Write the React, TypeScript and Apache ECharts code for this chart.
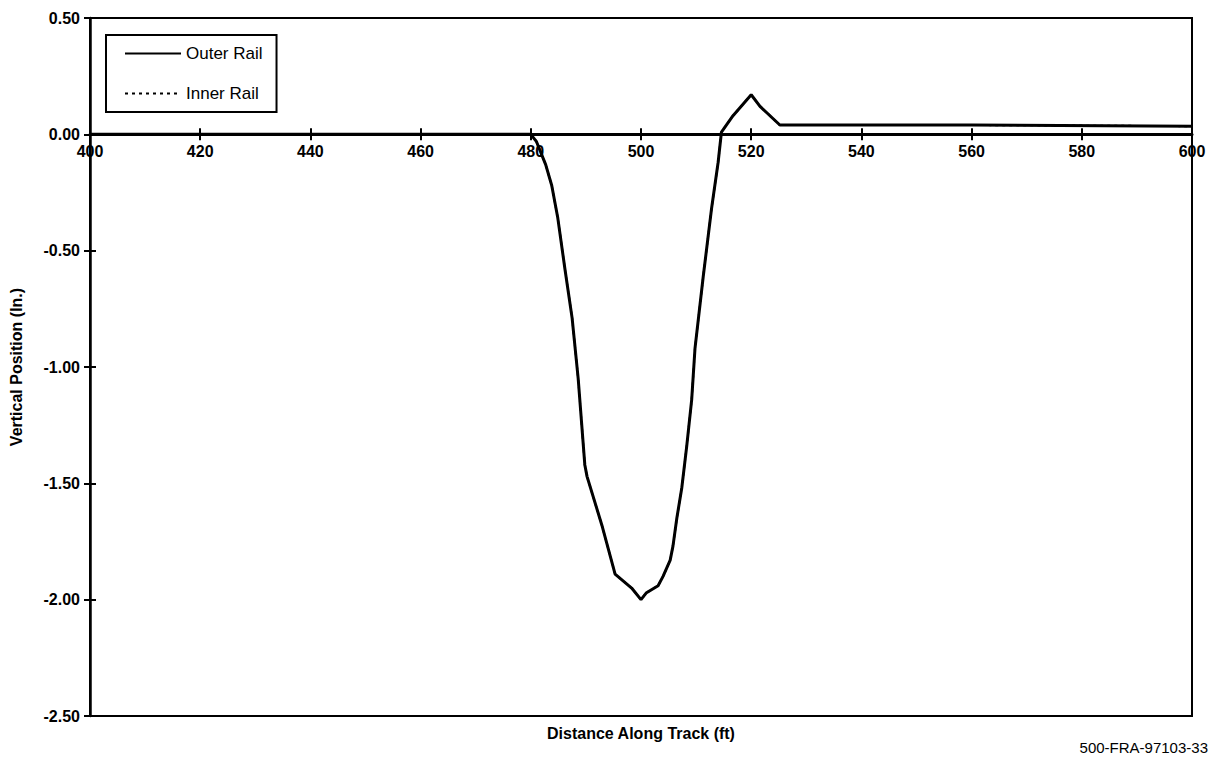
import React, { useEffect, useRef } from "react";
import * as echarts from "echarts";

const distance = [400, 480, 481, 482.7, 483.8, 484.9, 486.2, 487.5, 488.6, 489.8, 490.2, 492.9, 495.3, 498.3, 500, 501, 503.1, 504, 505.3, 505.8, 506.5, 507.4, 508.3, 509.2, 509.8, 511.3, 512.8, 514, 514.6, 515.2, 516.7, 520, 521.6, 525.2, 560, 600];
const outerRail = [0, 0, -0.03, -0.13, -0.22, -0.36, -0.58, -0.79, -1.05, -1.42, -1.47, -1.68, -1.89, -1.95, -2.0, -1.97, -1.94, -1.9, -1.83, -1.77, -1.65, -1.52, -1.34, -1.14, -0.92, -0.61, -0.32, -0.12, 0.01, 0.03, 0.08, 0.17, 0.12, 0.04, 0.04, 0.035];
const innerRail = [0, 0, -0.03, -0.13, -0.22, -0.36, -0.58, -0.79, -1.05, -1.42, -1.47, -1.68, -1.89, -1.95, -2.0, -1.97, -1.94, -1.9, -1.83, -1.77, -1.65, -1.52, -1.34, -1.14, -0.92, -0.61, -0.32, -0.12, 0.01, 0.03, 0.08, 0.17, 0.12, 0.04, 0.04, 0.035];
const seriesNames = ["Outer Rail", "Inner Rail"];
const xTitle = "Distance Along Track (ft)";
const yTitle = "Vertical Position (In.)";
const footnote = "500-FRA-97103-33";

const FONT = "'Liberation Sans', Arial, sans-serif";

const X_MIN = 400;
const X_MAX = 600;
const Y_MIN = -2.5;
const Y_MAX = 0.5;

export default function App() {
  const ref = useRef<HTMLDivElement>(null);
  useEffect(() => {
    if (!ref.current) return;
    const chart = echarts.init(ref.current, undefined, { renderer: "svg" });
    const W = 1214, H = 757;
    const gLeft = 90, gRight = 22, gTop = 18, gBottom = 41;
    const plotW = W - gLeft - gRight;
    const plotH = H - gTop - gBottom;
    const zeroFromTop = (plotH * (Y_MAX - 0)) / (Y_MAX - Y_MIN);
    const zeroFromBottom = plotH - zeroFromTop;

    const labelStyle = { color: "#000", fontFamily: FONT, fontWeight: "bold" as const, fontSize: 16 };
    const tickStyle = { color: "#000", width: 2 };
    const xBase = {
      type: "value" as const,
      min: X_MIN,
      max: X_MAX,
      interval: 20,
      splitLine: { show: false },
    };
    const yBase = {
      type: "value" as const,
      min: Y_MIN,
      max: Y_MAX,
      interval: 0.5,
      splitLine: { show: false },
    };
    chart.setOption({
      animation: false,
      backgroundColor: "#fff",
      grid: {
        left: gLeft,
        right: gRight,
        top: gTop,
        bottom: gBottom,
        show: true,
        borderColor: "#000",
        borderWidth: 2,
        backgroundColor: "transparent",
      },
      legend: {
        orient: "vertical",
        left: 106,
        top: 35,
        data: seriesNames,
        itemWidth: 56,
        itemHeight: 14,
        itemGap: 23,
        padding: [10, 14, 10, 18],
        borderColor: "#000",
        borderWidth: 2,
        backgroundColor: "#fff",
        itemStyle: { opacity: 0 },
        textStyle: { color: "#000", fontFamily: FONT, fontSize: 17 },
      },
      xAxis: [
        {
          ...xBase,
          position: "top",
          offset: -zeroFromTop,
          axisLine: { show: true, onZero: false, lineStyle: { color: "#000", width: 3 } },
          axisTick: { show: true, inside: true, length: 6, lineStyle: tickStyle },
          axisLabel: { ...labelStyle, inside: true, margin: 9 },
        },
        {
          ...xBase,
          position: "bottom",
          offset: -zeroFromBottom,
          axisLine: { show: false, onZero: false },
          axisTick: { show: true, inside: true, length: 6, lineStyle: tickStyle },
          axisLabel: { show: false },
        },
      ],
      yAxis: [
        {
          ...yBase,
          position: "left",
          axisLine: { show: true, onZero: false, lineStyle: { color: "#000", width: 2.5 } },
          axisTick: { show: true, inside: false, length: 6, lineStyle: tickStyle },
          axisLabel: { ...labelStyle, margin: 10, formatter: (v: number) => v.toFixed(2) },
          name: yTitle,
          nameLocation: "middle",
          nameGap: 66,
          nameTextStyle: { ...labelStyle },
        },
        {
          ...yBase,
          position: "right",
          offset: -plotW,
          axisLine: { show: false, onZero: false },
          axisTick: { show: true, inside: false, length: 6, lineStyle: tickStyle },
          axisLabel: { show: false },
        },
      ],
      graphic: [
        {
          type: "text",
          x: gLeft + plotW / 2,
          y: 733,
          style: { text: xTitle, font: `bold 16px ${FONT}`, fill: "#000", align: "center", verticalAlign: "middle" },
        },
        {
          type: "text",
          x: 1208,
          y: 747,
          style: { text: footnote, font: `15px ${FONT}`, fill: "#000", align: "right", verticalAlign: "middle" },
        },
      ],
      series: [
        {
          name: seriesNames[1],
          type: "line",
          xAxisIndex: 0,
          yAxisIndex: 0,
          symbol: "none",
          itemStyle: { color: "#000" },
          lineStyle: { color: "#000", width: 2, type: [3, 4] },
          data: distance.map((d, i) => [d, innerRail[i]]),
          z: 2,
        },
        {
          name: seriesNames[0],
          type: "line",
          xAxisIndex: 0,
          yAxisIndex: 0,
          symbol: "none",
          itemStyle: { color: "#000" },
          lineStyle: { color: "#000", width: 3 },
          data: distance.map((d, i) => [d, outerRail[i]]),
          z: 3,
        },
      ],
    });
    return () => chart.dispose();
  }, []);
  return (
    <div
      ref={ref}
      style={{ position: "fixed", left: 0, top: 0, width: 1214, height: 757, background: "#fff" }}
    />
  );
}
